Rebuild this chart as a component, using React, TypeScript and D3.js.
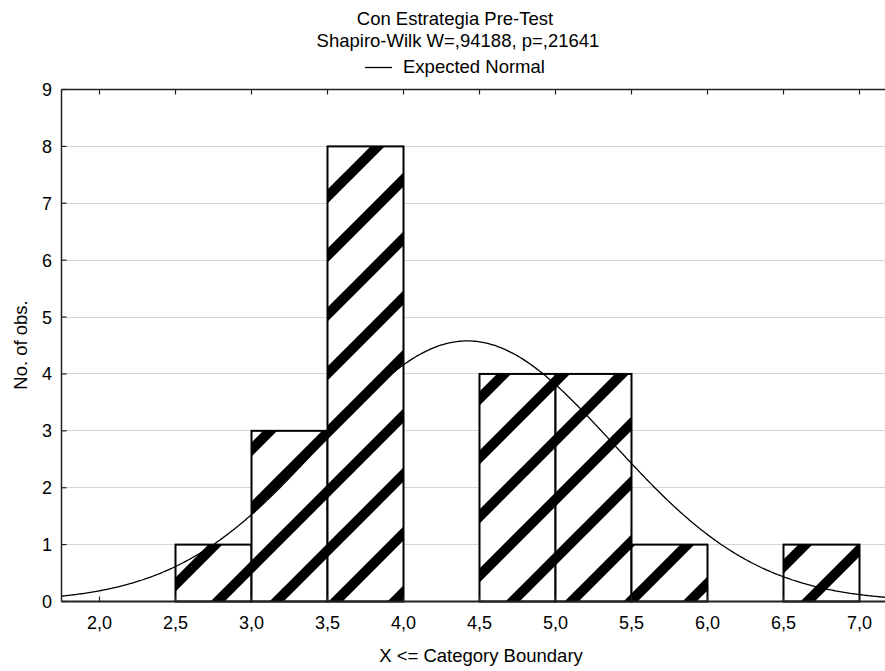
import React from "react";
import * as d3 from "d3";

const binStarts = [2.5, 3.0, 3.5, 4.0, 4.5, 5.0, 5.5, 6.0, 6.5];
const binCounts = [1, 3, 8, 0, 4, 4, 1, 0, 1];
const binWidth = 0.5;
const xTicks = [2.0, 2.5, 3.0, 3.5, 4.0, 4.5, 5.0, 5.5, 6.0, 6.5, 7.0];
const yTicks = [0, 1, 2, 3, 4, 5, 6, 7, 8, 9];
const normalMean = 4.42;
const normalSd = 0.958;
const nObs = 22;

const titleLines = ["Con Estrategia Pre-Test", "Shapiro-Wilk W=,94188, p=,21641"];
const legendLabel = "Expected Normal";
const xLabel = "X <= Category Boundary";
const yLabel = "No. of obs.";

const W = 885;
const H = 671;
const left = 61.5;
const top = 89.5;
const bottom = 601.5;
const FONT = "'Liberation Sans', Arial, sans-serif";

export default function App() {
  const x = d3.scaleLinear().domain([1.75, 7.25]).range([left, 897.5]);
  const y = d3.scaleLinear().domain([0, 9]).range([bottom, top]);

  const curvePts: [number, number][] = d3.range(1.75, 7.26, 0.01).map((v) => {
    const pdf = Math.exp(-((v - normalMean) ** 2) / (2 * normalSd * normalSd)) / (normalSd * Math.sqrt(2 * Math.PI));
    return [v, nObs * binWidth * pdf];
  });
  const line = d3.line<[number, number]>().x((d) => x(d[0])).y((d) => y(d[1]));
  const fmt = (v: number) => v.toFixed(1).replace(".", ",");
  const tickLen = 5;
  const crisp = (v: number) => Math.round(v - 0.5) + 0.5;

  return (
    <svg width={W} height={H} style={{ position: "absolute", left: 0, top: 0, background: "#fff" }} fontFamily={FONT}>
      <defs>
        <pattern id="hatch" patternUnits="userSpaceOnUse" width={59} height={59} x={52} y={0}>
          <rect width={59} height={59} fill="#fff" />
          <path d="M-15,15 L15,-15 M0,59 L59,0 M44,74 L74,44" stroke="#000" strokeWidth={10} />
        </pattern>
        <clipPath id="plot">
          <rect x={left} y={top} width={W - left} height={bottom - top} />
        </clipPath>
      </defs>
      <rect width={W} height={H} fill="#fff" />
      {/* grid */}
      {yTicks.filter((t) => t > 0 && t < 9).map((t) => (
        <line key={t} x1={left} x2={W} y1={crisp(y(t))} y2={crisp(y(t))} stroke="#a8a8a8" strokeWidth={1} strokeDasharray="1,1" />
      ))}
      {/* bars */}
      {binStarts.map((s, i) =>
        binCounts[i] > 0 ? (
          <rect
            key={s}
            x={x(s)}
            y={y(binCounts[i])}
            width={x(s + binWidth) - x(s)}
            height={y(0) - y(binCounts[i])}
            fill="url(#hatch)"
            stroke="#000"
            strokeWidth={2}
          />
        ) : null
      )}
      {/* normal curve */}
      <path d={line(curvePts) || ""} fill="none" stroke="#000" strokeWidth={1.3} clipPath="url(#plot)" />
      {/* frame */}
      <line x1={left} x2={W} y1={top} y2={top} stroke="#222" strokeWidth={1.5} />
      <line x1={left} x2={W} y1={bottom} y2={bottom} stroke="#222" strokeWidth={2} />
      <line x1={left} x2={left} y1={top} y2={bottom} stroke="#222" strokeWidth={1.5} />
      {xTicks.map((t) => (
        <g key={t}>
          <line x1={x(t)} x2={x(t)} y1={top} y2={top + tickLen} stroke="#222" strokeWidth={1.2} />
          <line x1={x(t)} x2={x(t)} y1={bottom} y2={bottom - tickLen} stroke="#222" strokeWidth={1.2} />
          <text x={x(t)} y={629} textAnchor="middle" fontSize={18} fill="#000">
            {fmt(t)}
          </text>
        </g>
      ))}
      {yTicks.map((t) => (
        <g key={t}>
          <line x1={left} x2={left + tickLen} y1={y(t)} y2={y(t)} stroke="#222" strokeWidth={1.2} />
          <text x={52} y={y(t) + 6.5} textAnchor="end" fontSize={18} fill="#000">
            {t}
          </text>
        </g>
      ))}
      {/* titles */}
      <text x={455} y={25} textAnchor="middle" fontSize={18.5} fill="#000">
        {titleLines[0]}
      </text>
      <text x={458} y={46.7} textAnchor="middle" fontSize={18.5} fill="#000">
        {titleLines[1]}
      </text>
      <line x1={365} x2={392} y1={67.5} y2={67.5} stroke="#000" strokeWidth={1.3} />
      <text x={403} y={73} textAnchor="start" fontSize={18.5} fill="#000">
        {legendLabel}
      </text>
      <text x={481} y={662} textAnchor="middle" fontSize={18.5} fill="#000">
        {xLabel}
      </text>
      <text transform="translate(27,345) rotate(-90)" textAnchor="middle" fontSize={18.5} fill="#000">
        {yLabel}
      </text>
    </svg>
  );
}
